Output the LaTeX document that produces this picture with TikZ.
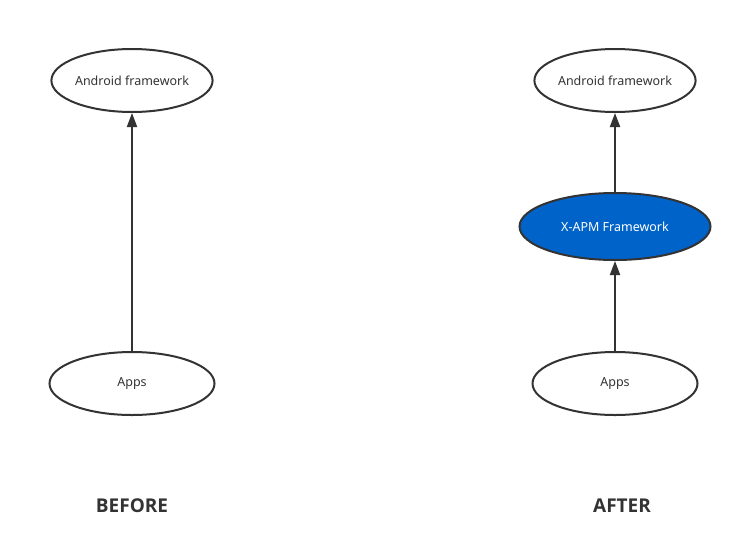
\documentclass[tikz,border=0pt]{standalone}
\usepackage{fontspec}
\setmainfont{Noto Sans}
\newfontfamily\titlefont{Open Sans}
\usepackage{xcolor}
\usetikzlibrary{arrows.meta,shapes.geometric,positioning}
\definecolor{linegray}{HTML}{333333}
\definecolor{xapmblue}{HTML}{0063C9}

\begin{document}
\begin{tikzpicture}[x=1pt, y=-1pt, main/.style = {draw=linegray, line width=2pt, ellipse, inner sep=0pt, minimum width=160pt, minimum height=63pt, text=linegray, font=\fontsize{12.5}{15}\selectfont}, arr/.style = {draw=linegray, line width=2pt, -{Triangle[width=10pt,length=14pt]}}, title/.style = {text=linegray, font=\titlefont\fontsize{19}{22}\selectfont\bfseries}]
    \useasboundingbox (0,0) rectangle (743,557);
    % before
    \node[main](1) at (132,80.5){Android framework};
    \node[main, minimum width=165pt](2) at (132,383.5){Apps};
    % after
    \node[main](3) at (615,80.5){Android framework};
    \node[main, fill=xapmblue, text=white, minimum width=191pt, minimum height=67pt](4) at (615,226.5){X-APM Framework};
    \node[main, minimum width=165pt](5) at (615,383.5){Apps};

    \node[title](b) at (132,505.5){BEFORE};
    \node[title](a) at (622,505.5){AFTER};

    \path
    (2) edge[arr] (1)
    (4) edge[arr] (3)
    (5) edge[arr] (4)
    ;
\end{tikzpicture}
\end{document}
